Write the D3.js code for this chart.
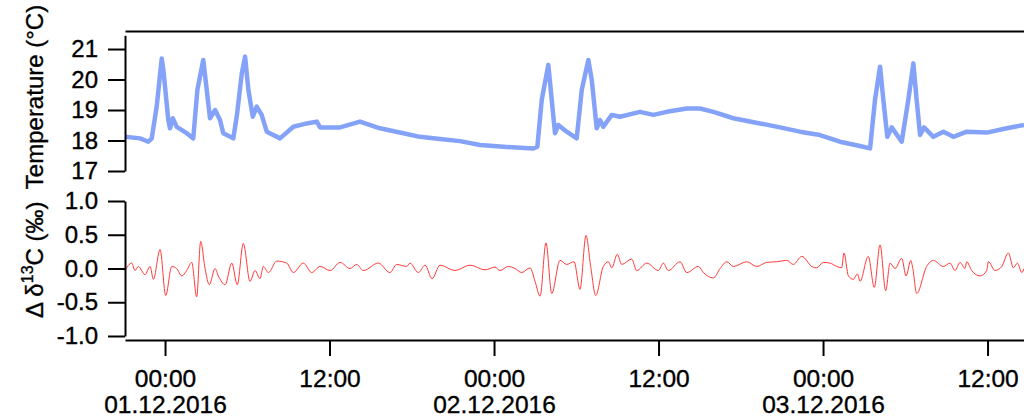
<!DOCTYPE html>
<html>
<head>
<meta charset="utf-8">
<script src="https://cdn.jsdelivr.net/npm/d3@7"></script>
<style>
  body { margin: 0; background: #fff; }
  svg { display: block; font-family: "Liberation Sans", Arial, sans-serif; }
  svg text { stroke: #000; stroke-width: 0.35px; }
</style>
</head>
<body>
<svg id="chart"></svg>
<script>
// hours after 01.12.2016 00:00
var tempHours = [-2.92,-1.82,-1.22,-0.97,-0.61,-0.24,-0.12,0.24,0.36,0.56,0.85,1.58,2.06,2.36,2.79,2.99,3.28,3.65,4.01,4.25,4.98,5.23,5.60,5.84,6.08,6.40,6.69,7.05,7.42,8.39,9.36,10.34,11.07,11.31,12.77,14.22,15.68,17.38,18.60,20.06,21.52,22.98,24.44,26.87,27.16,27.48,27.96,28.21,28.45,28.69,29.30,30.03,30.40,30.88,31.13,31.49,31.73,31.97,32.59,33.19,34.65,35.62,36.60,38.06,39.03,40.00,41.46,43.40,44.86,46.31,47.77,49.23,50.69,51.43,51.79,52.16,52.40,52.69,53.01,53.74,54.22,54.59,54.83,55.08,55.37,56.05,56.78,57.51,58.48,59.94,61.40,62.66];
var tempValues = [18.12,18.07,17.96,18.07,19.11,20.69,20.31,18.67,18.40,18.73,18.45,18.24,18.07,19.66,20.64,19.87,18.73,19.0,18.67,18.24,18.07,18.78,20.20,20.75,19.66,18.78,19.11,18.84,18.29,18.07,18.45,18.56,18.62,18.43,18.43,18.62,18.40,18.24,18.12,18.05,17.98,17.85,17.80,17.74,17.80,19.33,20.48,19.33,18.24,18.51,18.29,18.07,19.66,20.64,19.98,18.40,18.67,18.45,18.84,18.78,18.94,18.84,18.94,19.05,19.05,18.94,18.73,18.56,18.43,18.29,18.18,17.96,17.82,17.74,19.33,20.42,19.33,18.12,18.43,17.96,19.33,20.53,19.33,18.18,18.43,18.12,18.29,18.12,18.29,18.26,18.40,18.51];

var deltaHours = [-2.92,-2.43,-2.19,-1.95,-1.46,-1.09,-0.85,-0.36,0.05,0.49,0.85,1.22,1.58,1.95,2.31,2.60,2.92,3.23,3.65,3.89,4.38,4.87,5.27,5.71,6.20,6.57,6.93,7.17,7.54,8.15,8.88,9.36,10.09,10.70,11.31,12.04,12.77,13.50,13.98,14.47,15.56,16.41,16.90,17.63,17.87,18.48,18.97,19.48,20.06,21.15,22.25,23.34,24.07,24.44,25.04,25.53,26.02,26.63,26.99,27.36,27.79,28.21,28.81,29.30,29.84,30.27,30.71,31.05,31.42,31.97,32.34,32.59,32.99,33.32,34.04,34.41,35.14,35.99,36.35,36.71,37.57,38.06,38.90,39.27,40.00,40.49,40.98,41.46,42.43,43.16,43.89,44.62,45.35,45.83,46.45,47.18,47.54,48.02,48.51,49.00,49.36,49.53,49.85,50.21,50.51,50.70,51.30,51.74,52.16,52.57,52.89,53.25,53.74,54.06,54.40,54.55,54.83,55.56,56.05,56.78,57.26,57.63,57.99,58.36,58.48,58.84,59.45,59.94,60.06,60.55,61.04,61.52,61.89,62.18,62.50,62.66];
var deltaValues = [-0.03,0.08,-0.03,0.03,-0.09,0.03,-0.16,0.28,-0.40,0.03,0.00,-0.11,-0.03,0.09,-0.42,0.40,0.00,-0.24,0.00,-0.11,-0.24,0.08,-0.24,0.37,-0.19,-0.03,-0.15,0.03,-0.06,0.11,0.08,-0.06,0.08,-0.06,0.03,-0.03,0.09,0.00,0.06,-0.03,0.08,-0.06,0.06,0.03,0.08,-0.06,0.05,-0.15,0.05,-0.03,0.05,-0.02,0.02,-0.03,0.03,0.00,-0.06,0.01,-0.19,-0.41,0.38,-0.37,0.12,0.06,0.10,-0.31,0.49,0.03,-0.40,0.03,0.10,0.01,0.21,0.06,0.14,-0.03,0.08,-0.03,0.08,-0.03,0.10,-0.06,0.03,-0.06,-0.14,0.00,0.10,0.03,0.10,0.03,0.09,0.10,0.12,0.06,0.18,0.03,0.01,0.09,0.08,0.03,0.01,0.23,-0.11,-0.16,-0.08,-0.19,0.18,-0.28,0.35,-0.33,0.08,0.00,0.15,-0.11,0.12,0.00,-0.37,0.03,0.12,0.03,0.08,-0.03,0.09,0.00,0.10,-0.03,-0.11,-0.03,0.10,-0.03,0.03,0.23,0.01,0.08,-0.06,0.00];

var tempTicks = [17, 18, 19, 20, 21];
var deltaTicks = [-1.0, -0.5, 0.0, 0.5, 1.0];

var t0 = Date.UTC(2016, 11, 1);
function toDate(h) { return new Date(t0 + h * 3600e3); }

var svg = d3.select('#chart').attr('width', 1024).attr('height', 419);

var x = d3.scaleUtc()
    .domain([toDate(-2.92), toDate(62.66)])
    .range([125, 1024]);

var yT = d3.scaleLinear().domain([17, 21.45]).range([171, 35.3]);
var yD = d3.scaleLinear().domain([-1, 1]).range([336, 201]);

// traces
var tempData = tempHours.map(function(h, i) { return {t: toDate(h), v: tempValues[i]}; });
var deltaData = deltaHours.map(function(h, i) { return {t: toDate(h), v: deltaValues[i]}; });

svg.append('path')
    .datum(tempData)
    .attr('fill', 'none')
    .attr('stroke', '#84a2f8')
    .attr('stroke-width', 4.5)
    .attr('stroke-linejoin', 'round')
    .attr('d', d3.line().x(function(d) { return x(d.t); }).y(function(d) { return yT(d.v); }));

svg.append('path')
    .datum(deltaData)
    .attr('fill', 'none')
    .attr('stroke', '#ff3a3a')
    .attr('stroke-width', 1)
    .attr('d', d3.line().curve(d3.curveMonotoneX).x(function(d) { return x(d.t); }).y(function(d) { return yD(d.v); }));

// axes
function styleAxis(g) {
  g.selectAll('path, line').attr('stroke', '#000').attr('stroke-width', 2);
}

var gT = svg.append('g').attr('transform', 'translate(125,0)')
    .call(d3.axisLeft(yT).tickValues(tempTicks).tickSize(17).tickSizeOuter(0).tickPadding(10).tickFormat(d3.format('d')));
gT.call(styleAxis);
gT.selectAll('text').attr('font-size', 24).attr('fill', '#000');

var fmtD = d3.format('.1f');
var gD = svg.append('g').attr('transform', 'translate(125,0)')
    .call(d3.axisLeft(yD).tickValues(deltaTicks).tickSize(17).tickSizeOuter(0).tickPadding(10)
      .tickFormat(function(d) { return fmtD(d).replace('\u2212', '-'); }));
gD.call(styleAxis);
gD.selectAll('text').attr('font-size', 24).attr('fill', '#000');

// top frame line
svg.append('g').attr('transform', 'translate(0,31)')
    .call(d3.axisTop(x).tickValues([]).tickSizeOuter(0))
    .call(styleAxis);

var gX = svg.append('g').attr('transform', 'translate(0,340)')
    .call(d3.axisBottom(x).ticks(d3.utcHour.every(12)).tickSize(16).tickSizeOuter(0).tickPadding(14)
      .tickFormat(d3.utcFormat('%H:%M')));
gX.call(styleAxis);
gX.selectAll('text').attr('font-size', 24.5).attr('fill', '#000');
gX.selectAll('.tick text').each(function(d) {
  if (d.getUTCHours() === 0) {
    d3.select(this).append('tspan')
      .attr('x', 0).attr('dy', '1.05em')
      .text(d3.utcFormat('%d.%m.%Y')(d));
  }
});

// y titles
svg.append('text')
    .attr('transform', 'translate(43,97) rotate(-90)')
    .attr('text-anchor', 'middle')
    .attr('font-size', 24)
    .text('Temperature (°C)');

var dt = svg.append('text')
    .attr('transform', 'translate(43,318) rotate(-90)')
    .attr('text-anchor', 'start')
    .attr('font-size', 24);
dt.append('tspan').text('\u0394 \u03b4');
dt.append('tspan').attr('font-size', 16).attr('dy', -10).text('13');
dt.append('tspan').attr('dy', 10).text('C (\u2030)');
</script>
</body>
</html>
